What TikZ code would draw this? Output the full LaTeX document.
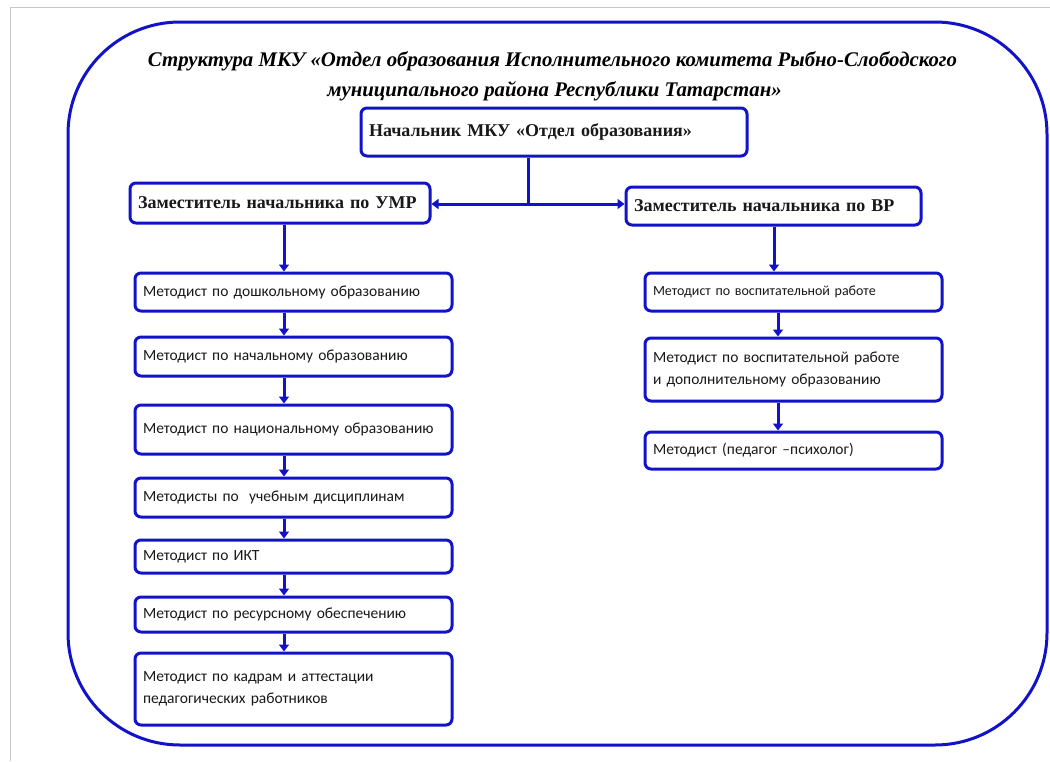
\documentclass[tikz,border=0pt]{standalone}
\usepackage{fontspec}
\setmainfont{Carlito}
\newfontfamily\tnr{Liberation Serif}
\usetikzlibrary{arrows.meta,calc}
\definecolor{lineblue}{RGB}{18,18,200}
\definecolor{txt}{RGB}{25,25,25}
\newcommand\obox[7]{%
  \pgfmathsetmacro\bw{#5-#3}\pgfmathsetmacro\bh{#6-#4}\pgfmathsetmacro\tw{#5-#3-16}%
  \node[#2, minimum width=\bw pt, minimum height=\bh pt, text width=\tw pt] (#1) at ({(#3+#5)/2},{(#4+#6)/2}) {#7};}
\tikzset{
  boxbase/.style={draw=lineblue, line width=3pt, rounded corners=6pt, fill=white,
    inner xsep=8pt, inner ysep=2pt, align=left, text=txt},
  headbox/.style={boxbase, font=\tnr\bfseries\fontsize{18}{21}\selectfont},
  mbox/.style={boxbase, font=\fontsize{15.5}{22}\selectfont},
  smallbox/.style={boxbase, font=\fontsize{14}{22}\selectfont},
  conn/.style={draw=lineblue, line width=3pt},
  arr/.style={conn, -{Triangle[width=10pt,length=7pt]}},
  titletext/.style={font=\tnr\bfseries\itshape\fontsize{20.8}{24}\selectfont, text=black, inner sep=0pt},
  frame/.style={draw=lineblue, line width=3pt, rounded corners=112pt},
  pageline/.style={draw=black!22, line width=1pt}
}
\begin{document}
\begin{tikzpicture}[x=1pt,y=-1pt]
\useasboundingbox (0,0) rectangle (1050,761);
\fill[white] (0,0) rectangle (1050,761);
\draw[pageline] (10,761) -- (10,7) -- (1050,7);
\draw[frame] (68,22) rectangle (1047,745);

\node[titletext] (title1) at (552.5,61) {Структура МКУ «Отдел образования Исполнительного комитета Рыбно-Слободского};
\node[titletext] (title2) at (554.5,91) {муниципального района Республики Татарстан»};

\obox{chief}{headbox}{361}{108}{747}{156}{Начальник МКУ «Отдел образования»}
\obox{umr}{headbox}{130}{183}{430}{223}{Заместитель начальника по УМР}
\obox{vr}{headbox}{626}{187}{921}{225}{Заместитель начальника по ВР}

\obox{m1}{mbox}{135}{273}{452}{311}{Методист по дошкольному образованию}
\obox{m2}{mbox}{135}{337}{452}{376}{Методист по начальному образованию}
\obox{m3}{mbox}{135}{405}{452}{454}{Методист по национальному образованию\\[4pt]}
\obox{m4}{mbox}{135}{478}{452}{517}{Методисты по \ учебным дисциплинам}
\obox{m5}{mbox}{135}{540}{452}{573}{Методист по ИКТ}
\obox{m6}{mbox}{135}{597}{452}{632}{Методист по ресурсному обеспечению}
\obox{m7}{mbox}{135}{653}{452}{725}{Методист по кадрам и аттестации\\педагогических работников}

\obox{r1}{smallbox}{645}{273}{942}{311}{Методист по воспитательной работе}
\obox{r2}{mbox}{645}{338}{942}{401}{Методист по воспитательной работе\\и дополнительному образованию}
\obox{r3}{mbox}{645}{432}{942}{469}{Методист (педагог –психолог)}

\coordinate (j) at (528,204);
\coordinate (ax) at (284,0);
\coordinate (bx) at (774,0);
\coordinate (cx) at (778,0);

\draw[conn] (chief.south -| j) -- (j);
\draw[arr] (j) -- (umr.east |- j);
\draw[arr] (j) -- (vr.west |- j);

\draw[arr] (umr.south -| ax) -- (m1.north -| ax);
\draw[arr] (m1.south -| ax) -- (m2.north -| ax);
\draw[arr] (m2.south -| ax) -- (m3.north -| ax);
\draw[arr] (m3.south -| ax) -- (m4.north -| ax);
\draw[arr] (m4.south -| ax) -- (m5.north -| ax);
\draw[arr] (m5.south -| ax) -- (m6.north -| ax);
\draw[arr] (m6.south -| ax) -- (m7.north -| ax);

\draw[arr] (vr.south -| bx) -- (r1.north -| bx);
\draw[arr] (r1.south -| cx) -- (r2.north -| cx);
\draw[arr] (r2.south -| cx) -- (r3.north -| cx);
\end{tikzpicture}
\end{document}
